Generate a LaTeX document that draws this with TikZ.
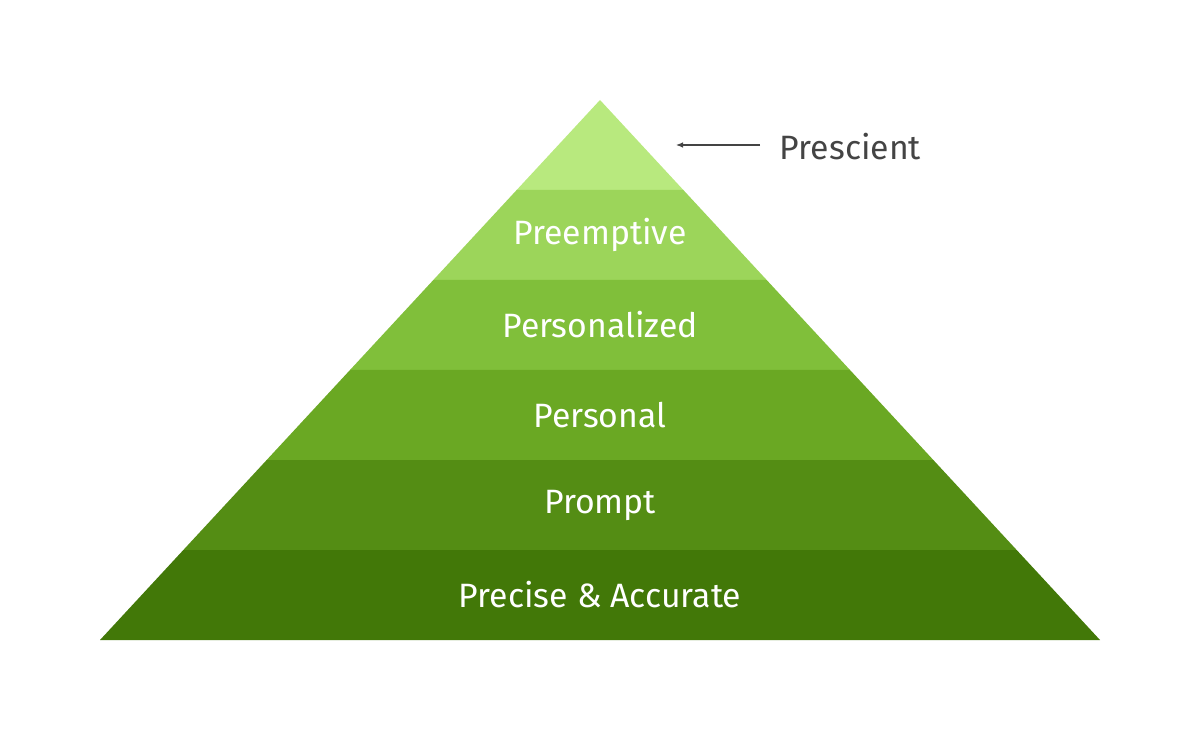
\documentclass[tikz,border=0pt]{standalone}
\usepackage{fontspec}
\setmainfont{Fira Sans}
\usetikzlibrary{arrows.meta}
\definecolor{c1}{HTML}{B8E97E}
\definecolor{c2}{HTML}{9CD55A}
\definecolor{c3}{HTML}{80BF3A}
\definecolor{c4}{HTML}{6AA823}
\definecolor{c5}{HTML}{548D14}
\definecolor{c6}{HTML}{427808}
\definecolor{tx}{HTML}{444444}
\tikzset{lbl/.style={text=white,font=\fontsize{24}{28}\selectfont},
  side/.style={text=tx,font=\fontsize{24}{28}\selectfont,anchor=west}}
\begin{document}
\begin{tikzpicture}[x=0.025cm,y=-0.025cm]
\useasboundingbox (0,0) rectangle (1200,740);
\foreach \i/\c in {0/c1,1/c2,2/c3,3/c4,4/c5,5/c6}{
  \pgfmathsetmacro{\ya}{100+90*\i}
  \pgfmathsetmacro{\yb}{190+90*\i}
  \pgfmathsetmacro{\wa}{(\ya-100)/540*500}
  \pgfmathsetmacro{\wb}{(\yb-100)/540*500}
  \fill[\c] (600-\wa,\ya) -- (600+\wa,\ya) -- (600+\wb,\yb) -- (600-\wb,\yb) -- cycle;
}
\node[lbl] (l2) at (600,235) {Preemptive};
\node[lbl] (l3) at (600,325) {Personalized};
\node[lbl] (l4) at (600,415) {Personal};
\node[lbl] (l5) at (600,505) {Prompt};
\node[lbl] (l6) at (600,595) {Precise \& Accurate};
\coordinate (tip) at (676,145);
\node[side] (p) at (775,147) {Prescient};
\draw[tx,line width=0.8pt,-{Latex[length=5pt,width=4pt]}] (760,145) -- (tip);
\end{tikzpicture}
\end{document}
